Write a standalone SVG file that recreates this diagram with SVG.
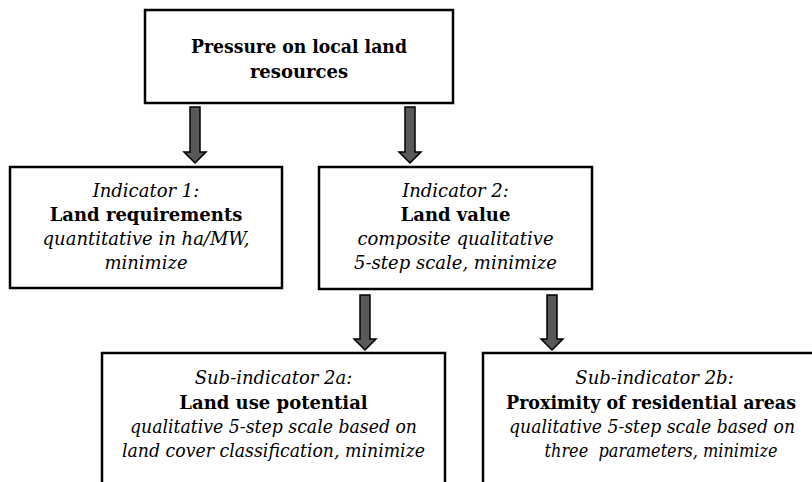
<svg xmlns="http://www.w3.org/2000/svg" width="812" height="482" viewBox="0 0 812 482">
<style>
.box{fill:#fff;stroke:#000;stroke-width:2.5}
.arr{fill:#595959;stroke:#000;stroke-width:1.5;stroke-linejoin:miter}
text{font-family:"DejaVu Serif",serif;font-size:18px;fill:#000;text-anchor:middle;white-space:pre}
.b{font-weight:bold}
.i{font-style:italic}
</style>
<rect width="812" height="482" fill="#fff"/>
<g id="connectors">
<path class="arr" d="M190,107 H200 V152 H206 L195,163 L184,152 H190 Z"/>
<path class="arr" d="M405,107 H415 V152 H421 L410,163 L399,152 H405 Z"/>
<path class="arr" d="M360,295 H370 V339 H376 L365,350 L354,339 H360 Z"/>
<path class="arr" d="M547,295 H557 V339 H563 L552,350 L541,339 H547 Z"/>
</g>
<g id="root">
<rect class="box" x="145" y="10" width="308" height="93"/>
<text class="b" x="299" y="53" textLength="216" lengthAdjust="spacingAndGlyphs">Pressure on local land</text>
<text class="b" x="299" y="78">resources</text>
</g>
<g id="indicator1">
<rect class="box" x="10" y="167" width="272" height="121"/>
<text class="i" x="146" y="197">Indicator 1:</text>
<text class="b" x="146" y="221">Land requirements</text>
<text class="i" x="146" y="245">quantitative in ha/MW,</text>
<text class="i" x="146" y="269">minimize</text>
</g>
<g id="indicator2">
<rect class="box" x="319" y="167" width="273" height="122"/>
<text class="i" x="455.5" y="197">Indicator 2:</text>
<text class="b" x="455.5" y="221">Land value</text>
<text class="i" x="455.5" y="245">composite qualitative</text>
<text class="i" x="455.5" y="269">5-step scale, minimize</text>
</g>
<g id="sub2a">
<rect class="box" x="102" y="353" width="343" height="140"/>
<text class="i" x="273.5" y="384">Sub-indicator 2a:</text>
<text class="b" x="273.5" y="409">Land use potential</text>
<text class="i" x="273.5" y="433" textLength="287" lengthAdjust="spacingAndGlyphs">qualitative 5-step scale based on</text>
<text class="i" x="273.5" y="457" textLength="303" lengthAdjust="spacingAndGlyphs">land cover classification, minimize</text>
</g>
<g id="sub2b">
<rect class="box" x="483" y="353" width="340" height="140"/>
<text class="i" x="654.5" y="384">Sub-indicator 2b:</text>
<text class="b" x="651" y="409" textLength="290" lengthAdjust="spacingAndGlyphs">Proximity of residential areas</text>
<text class="i" x="652" y="433" textLength="286" lengthAdjust="spacingAndGlyphs">qualitative 5-step scale based on</text>
<text class="i" x="661" y="457" textLength="233" lengthAdjust="spacingAndGlyphs">three  parameters, minimize</text>
</g>
</svg>
